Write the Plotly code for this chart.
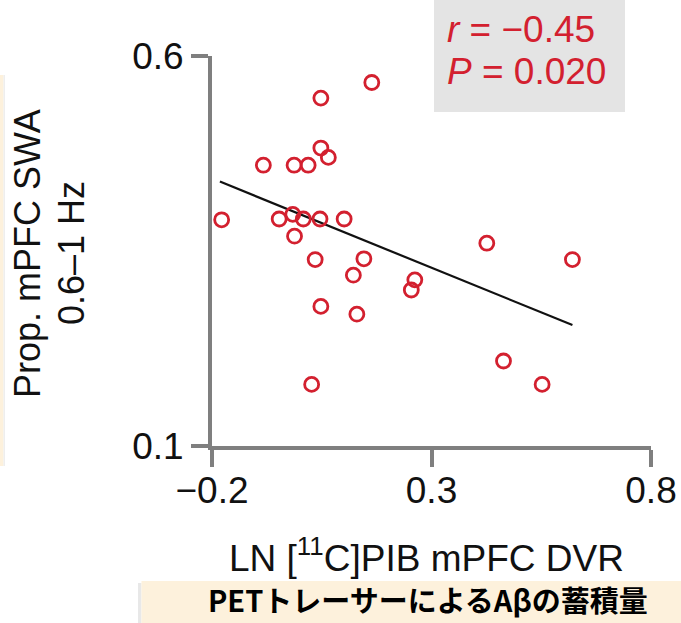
import plotly.graph_objects as go

# ---- data ----
pib_dvr = [0.164, 0.048, 0.048, 0.065, -0.083, -0.013, 0.019, -0.178, -0.047, -0.016,
           0.008, 0.046, 0.101, -0.012, 0.035, 0.146, 0.122, 0.262, 0.254, 0.426,
           0.621, 0.048, 0.130, 0.464, 0.027, 0.552]
swa_prop = [0.566, 0.546, 0.482, 0.470, 0.460, 0.460, 0.460, 0.390, 0.391, 0.397,
            0.391, 0.391, 0.391, 0.369, 0.339, 0.340, 0.319, 0.313, 0.300, 0.360,
            0.339, 0.279, 0.269, 0.209, 0.179, 0.179]
fit_x = [-0.182, 0.621]
fit_y = [0.439, 0.255]
x_ticks = [-0.2, 0.3, 0.8]
x_ticktext = ["\u22120.2", "0.3", "0.8"]
y_ticks = [0.1, 0.6]
y_ticktext = ["0.1", "0.6"]
stats_lines = ["<i>r</i> = \u22120.45", "<i>P</i> = 0.020"]
x_title = "LN [<sup>11</sup>C]PIB mPFC DVR"
y_title_lines = ["Prop. mPFC SWA", "0.6\u20131 Hz"]
caption = "PETトレーサーによるAβの蓄積量"

W, H = 681, 623
L, R, T, B = 212, 30, 56, 177
PW, PH = W - L - R, H - T - B


def px(xp):
    return (xp - L) / PW


def py(yp):
    return (H - B - yp) / PH


RED = "#D3202F"
AXIS = "#7f7f7f"
FONT = "Liberation Sans, Arial, sans-serif"

fig = go.Figure()
fig.add_trace(go.Scatter(x=fit_x, y=fit_y, mode="lines",
                         line=dict(color="#111111", width=2.2),
                         hoverinfo="skip", showlegend=False))
fig.add_trace(go.Scatter(x=pib_dvr, y=swa_prop, mode="markers",
                         marker=dict(symbol="circle-open", size=14,
                                     color=RED, line=dict(color=RED, width=2.8)),
                         cliponaxis=False, showlegend=False))

shapes = [
    # stats box
    dict(type="rect", xref="paper", yref="paper", x0=px(434), x1=px(625),
         y0=py(112), y1=py(-5), fillcolor="#E4E4E4", line=dict(width=0), layer="below"),
    # bottom caption box
    dict(type="rect", xref="paper", yref="paper", x0=px(138), x1=px(141.5),
         y0=py(628), y1=py(583), fillcolor="#E8E8E8", line=dict(width=0), layer="below"),
    dict(type="rect", xref="paper", yref="paper", x0=px(141.5), x1=px(690),
         y0=py(628), y1=py(581), fillcolor="#FDF1DC", line=dict(width=0), layer="below"),
    # left edge strip
    dict(type="rect", xref="paper", yref="paper", x0=px(-5), x1=px(3.5),
         y0=py(466), y1=py(75), fillcolor="#FDF1DC", line=dict(width=0), layer="below"),
    dict(type="rect", xref="paper", yref="paper", x0=px(3.5), x1=px(5),
         y0=py(466), y1=py(75), fillcolor="#EEEEEE", line=dict(width=0), layer="below"),
]

annotations = [
    dict(text=stats_lines[0], xref="paper", yref="paper", x=px(445), y=py(29),
         xanchor="left", yanchor="middle", showarrow=False,
         font=dict(family=FONT, size=37, color=RED)),
    dict(text=stats_lines[1], xref="paper", yref="paper", x=px(445), y=py(72),
         xanchor="left", yanchor="middle", showarrow=False,
         font=dict(family=FONT, size=37, color=RED)),
    dict(text=x_title, xref="paper", yref="paper", x=px(426), y=py(555),
         xanchor="center", yanchor="middle", showarrow=False,
         font=dict(family=FONT, size=37, color="#111111")),
    dict(text=y_title_lines[0], xref="paper", yref="paper", x=px(27), y=py(254),
         xanchor="center", yanchor="middle", textangle=-90, showarrow=False,
         font=dict(family=FONT, size=36, color="#111111")),
    dict(text=y_title_lines[1], xref="paper", yref="paper", x=px(71), y=py(253),
         xanchor="center", yanchor="middle", textangle=-90, showarrow=False,
         font=dict(family=FONT, size=36, color="#111111")),
    dict(text="<b>" + caption + "</b>", xref="paper", yref="paper", x=px(428), y=py(621),
         xanchor="center", yanchor="bottom", showarrow=False, borderpad=0,
         font=dict(family="Noto Sans CJK JP, sans-serif", size=29, color="#000000")),
]

fig.update_layout(
    width=W, height=H, margin=dict(l=L, r=R, t=T, b=B, pad=0, autoexpand=False),
    paper_bgcolor="white", plot_bgcolor="white",
    shapes=shapes, annotations=annotations, showlegend=False,
    xaxis=dict(range=[-0.2, 0.8], tickvals=x_ticks, ticktext=x_ticktext,
               showgrid=False, zeroline=False, showline=True, linecolor=AXIS,
               linewidth=4, ticks="outside", ticklen=17, tickwidth=4,
               ticklabelstandoff=-8, automargin=False,
               tickcolor=AXIS, tickfont=dict(family=FONT, size=37, color="#111111")),
    yaxis=dict(range=[0.1, 0.6], tickvals=y_ticks, ticktext=y_ticktext,
               showgrid=False, zeroline=False, showline=True, linecolor=AXIS,
               linewidth=4, ticks="outside", ticklen=17, tickwidth=4,
               automargin=False,
               tickcolor=AXIS, tickfont=dict(family=FONT, size=37, color="#111111")),
)

fig.write_html("out.html")
